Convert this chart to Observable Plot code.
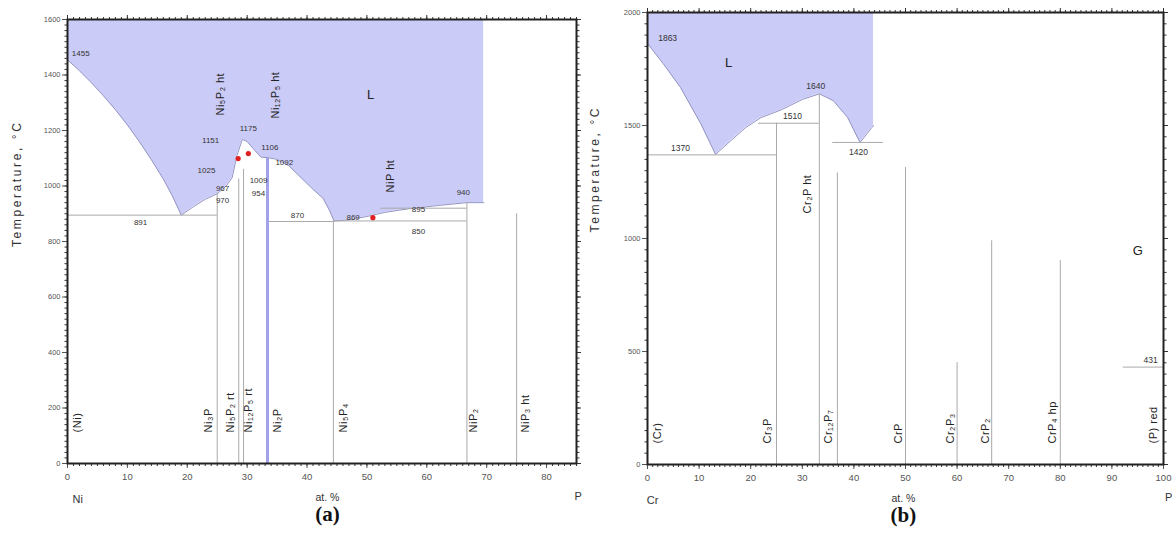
<!DOCTYPE html>
<html><head><meta charset="utf-8">
<script src="https://cdn.jsdelivr.net/npm/d3@7"></script>
<script src="https://cdn.jsdelivr.net/npm/@observablehq/plot@0.6"></script>
<style>
body{margin:0;background:#fff;}
#wrap{position:relative;width:1176px;height:542px;overflow:hidden;background:#fff}
#a{position:absolute;left:0;top:0}
#b{position:absolute;left:580px;top:0}
svg{overflow:visible}
</style></head><body><div id="wrap"><div id="a"></div><div id="b"></div></div>
<script>
// ---------- (a) Ni–P ----------
const niLiquidus = [[0,1455],[2,1415],[4,1372],[6,1325],[8,1275],[10,1220],[12,1160],[14,1095],[16,1025],[17.5,965],[19,895],[21,925],[23,952],[25,972],[26.5,1000],[27.5,1030],[28.3,1110],[29.2,1168],[30,1160],[31,1135],[32.3,1104],[33.5,1102],[35,1096],[37,1072],[39,1030],[41,988],[42.7,955],[43.8,910],[44.5,874],[47,878],[50,890],[53,905],[57,918],[62,930],[66.7,940],[69.5,940]];
const niTop = 1600;
const niPhaseLines = [[25,975],[28.6,1025],[29.4,1060],[44.4,874],[66.7,940],[75,900]];
const ni2P = [[33.4,1100]];
const niIsotherms = [[895,0,25],[872,33.3,44.4],[874,44.4,66.7],[920,52.3,66.7]];
const niNumbers = [[2.2,1477,"1455"],[23.9,1164,"1151"],[30.2,1207,"1175"],[33.8,1139,"1106"],[36.2,1085,"1092"],[23.2,1056,"1025"],[25.9,991,"967"],[25.9,948,"970"],[31.9,1020,"1009"],[31.9,973,"954"],[12.2,868,"891"],[38.4,894,"870"],[47.7,886,"869"],[58.6,915,"895"],[58.6,836,"850"],[66.1,977,"940"]];
const niPhasesLow = [[1.7,"(Ni)"],[23.5,"Ni₃P"],[27.2,"Ni₅P₂ rt"],[30.2,"Ni₁₂P₅ rt"],[35.1,"Ni₂P"],[46.1,"Ni₅P₄"],[67.8,"NiP₂"],[76.5,"NiP₃ ht"]];
const niPhasesHigh = [[25.5,1254,"Ni₅P₂ ht"],[34.7,1243,"Ni₁₂P₅ ht"],[53.9,977,"NiP ht"]];
const niRed = [[28.5,1099],[30.2,1117],[51,886]];
const niXTicks = d3.range(0,81,10);
const niYTicks = d3.range(0,1601,200);

// ---------- (b) Cr–P ----------
const crLiquidus = [[0,1863],[3,1775],[6.4,1668],[10.3,1509],[13.2,1372],[16,1430],[19,1490],[22,1535],[26,1570],[30,1615],[33.3,1640],[36,1610],[38.8,1535],[40.7,1447],[41.2,1425],[43.8,1500]];
const crTop = 2000;
const crPhaseLines = [[25,1510],[33.3,1640],[36.8,1290],[50,1314],[60,451],[66.7,990],[80,903]];
const crIsotherms = [[1370,0,25],[1510,21.5,33.3],[1425,35.9,45.7],[431,92.2,100]];
const crNumbers = [[3.9,1885,"1863"],[6.4,1398,"1370"],[28.1,1540,"1510"],[32.6,1673,"1640"],[40.9,1381,"1420"],[97.5,462,"431"]];
const crPhasesLow = [[1.9,"(Cr)"],[23.3,"Cr₃P"],[35.1,"Cr₁₂P₇"],[48.6,"CrP"],[58.7,"Cr₂P₃"],[65.5,"CrP₂"],[78.5,"CrP₄ hp"],[98.1,"(P) red"]];
const crPhasesHigh = [[31.0,1111,"Cr₂P ht"]];
const crXTicks = d3.range(0,101,10);
const crYTicks = d3.range(0,2001,500);

const FONT = "Liberation Sans, Arial, sans-serif";
const FILL = "#cbcbf7";
const LINE = "#a9a9a9";
const fmt = d => String(d);

function panel(cfg){
  const liq = cfg.liquidus.map(([x,T]) => ({x, T, top: cfg.top}));
  const vl = cfg.phaseLines.map(([x,T]) => ({x, T}));
  const hl = cfg.isotherms.map(([T,x1,x2]) => ({T,x1,x2}));
  const nums = cfg.numbers.map(([x,T,t]) => ({x,T,t}));
  const low = cfg.low.map(([x,t]) => ({x,t}));
  const high = cfg.high.map(([x,T,t]) => ({x,T,t}));
  const marks = [
    Plot.areaY(liq, {x:"x", y1:"T", y2:"top", fill: FILL}),
    Plot.line(liq, {x:"x", y:"T", stroke:"#9494c4", strokeWidth:1}),
    Plot.ruleX(vl, {x:"x", y1: () => 0, y2:"T", stroke: LINE, strokeWidth:1}),
    Plot.ruleY(hl, {y:"T", x1:"x1", x2:"x2", stroke: LINE, strokeWidth:1}),
    ...cfg.extra,
    Plot.text(nums, {x:"x", y:"T", text:"t", fontSize: cfg.numSize, fill:"#333"}),
    Plot.text(low, {x:"x", y: () => cfg.lowT, text:"t", rotate:-90, textAnchor:"start", fontSize:11, fill:"#222"}),
    Plot.text(high, {x:"x", y:"T", text:"t", rotate:-90, textAnchor:"start", fontSize:11, fill:"#222"}),
    Plot.text(cfg.big, {x: d => d[0], y: d => d[1], text: d => d[2], fontSize: 13, fill:"#222"}),
    // bottom axis
    Plot.axisX({anchor:"bottom", ticks: d3.range(0, cfg.xmax+0.01, 1), tickSize: 3, tickFormat: () => "", label: null, color:"#333"}),
    Plot.axisX({anchor:"bottom", ticks: cfg.xTicks, tickSize: 5, tickPadding: 5, tickFormat: fmt, fontSize: 9.5, label: null, color:"#555"}),
    // top axis
    Plot.axisX({anchor:"top", ticks: d3.range(0, cfg.xmax+0.01, 1), tickSize: 3, tickFormat: () => "", label: null, color:"#333"}),
    Plot.axisX({anchor:"top", ticks: cfg.xTicks, tickSize: 5, tickFormat: () => "", label: null, color:"#333"}),
    // left axis
    Plot.axisY({anchor:"left", ticks: d3.range(0, cfg.top+0.01, cfg.yMinor), tickSize: 2.5, tickFormat: () => "", label: null, color:"#333"}),
    Plot.axisY({anchor:"left", ticks: cfg.yTicks, tickSize: 5, tickPadding: 2, tickFormat: fmt, fontSize: 7.5, label: null, color:"#555"}),
    // right axis
    Plot.axisY({anchor:"right", ticks: d3.range(0, cfg.top+0.01, cfg.yMinor), tickSize: 2.5, tickFormat: () => "", label: null, color:"#333"}),
    Plot.axisY({anchor:"right", ticks: cfg.yTicks, tickSize: 4, tickFormat: () => "", label: null, color:"#333"}),
    Plot.frame({stroke:"#222", strokeWidth:2}),
    // axis titles
    Plot.text([cfg.leftEl], {x: () => cfg.leftElX, frameAnchor:"bottom", dy: 39, fontSize: 11, fill:"#333"}),
    Plot.text(["at. %"], {x: () => cfg.atX, frameAnchor:"bottom", dy: 37, fontSize: 10.5, fill:"#333"}),
    Plot.text(["P"], {x: () => cfg.pX, frameAnchor:"bottom", dy: 36, fontSize: 11, fill:"#333"}),
    Plot.text([cfg.tag], {x: () => cfg.atX, frameAnchor:"bottom", dy: 57, fontSize: 21, fontWeight:"bold", fontFamily:"Liberation Serif, Times New Roman, serif", fill:"#111"}),
    Plot.text(["Temperature, °C"], {y: () => cfg.tempT, frameAnchor:"left", dx: cfg.tempDx, rotate:-90, fontSize: 12, fill:"#333"})
  ];
  const svg = Plot.plot({
    width: cfg.width, height: 542,
    marginLeft: cfg.ml, marginRight: cfg.mr, marginTop: cfg.mt, marginBottom: 542 - cfg.bottomPx,
    style: {fontFamily: FONT, background: "transparent", overflow: "visible"},
    x: {domain: [0, cfg.xmax], axis: null},
    y: {domain: [0, cfg.top], axis: null},
    marks
  });
  d3.select(svg).selectAll("text").each(function(){
    const s = this.textContent;
    if (s.startsWith("Temperature")) this.style.letterSpacing = "2.6px";
    else if (/[A-Za-z]/.test(s) && !/^(L|G|P|Ni|Cr|at\. %|\(a\)|\(b\))$/.test(s)) this.style.letterSpacing = "0.5px";
  });
  return svg;
}

const plotA = panel({
  width: 590, ml: 67, mr: 14, mt: 19, bottomPx: 463, xmax: 85, top: niTop, yMinor: 20,
  liquidus: niLiquidus, phaseLines: niPhaseLines, isotherms: niIsotherms, numbers: niNumbers,
  low: niPhasesLow, lowT: 112, high: niPhasesHigh, numSize: 8,
  xTicks: niXTicks, yTicks: niYTicks,
  big: [[50.6,1327,"L"]],
  leftEl: "Ni", leftElX: 1.7, atX: 43.4, pX: 85.3, tag: "(a)", tempT: 780, tempDx: -50,
  extra: [
    Plot.ruleX(ni2P, {x: d => d[0], y1: () => 0, y2: d => d[1], stroke:"#a2a2ea", strokeWidth:3}),
    Plot.dot(niRed, {x: d => d[0], y: d => d[1], r: 2.6, fill:"#e02020", stroke:"none"})
  ]
});
const plotB = panel({
  width: 596, ml: 67, mr: 13, mt: 12, bottomPx: 464, xmax: 100, top: crTop, yMinor: 50,
  liquidus: crLiquidus, phaseLines: crPhaseLines, isotherms: crIsotherms, numbers: crNumbers,
  low: crPhasesLow, lowT: 93, high: crPhasesHigh, numSize: 8.5,
  xTicks: crXTicks, yTicks: crYTicks,
  big: [[15.7,1779,"L"],[95,947,"G"]],
  leftEl: "Cr", leftElX: 1.0, atX: 49.6, pX: 101, tag: "(b)", tempT: 1027, tempDx: -52,
  extra: []
});
document.getElementById("a").appendChild(plotA);
document.getElementById("b").appendChild(plotB);
</script>
</body></html>
